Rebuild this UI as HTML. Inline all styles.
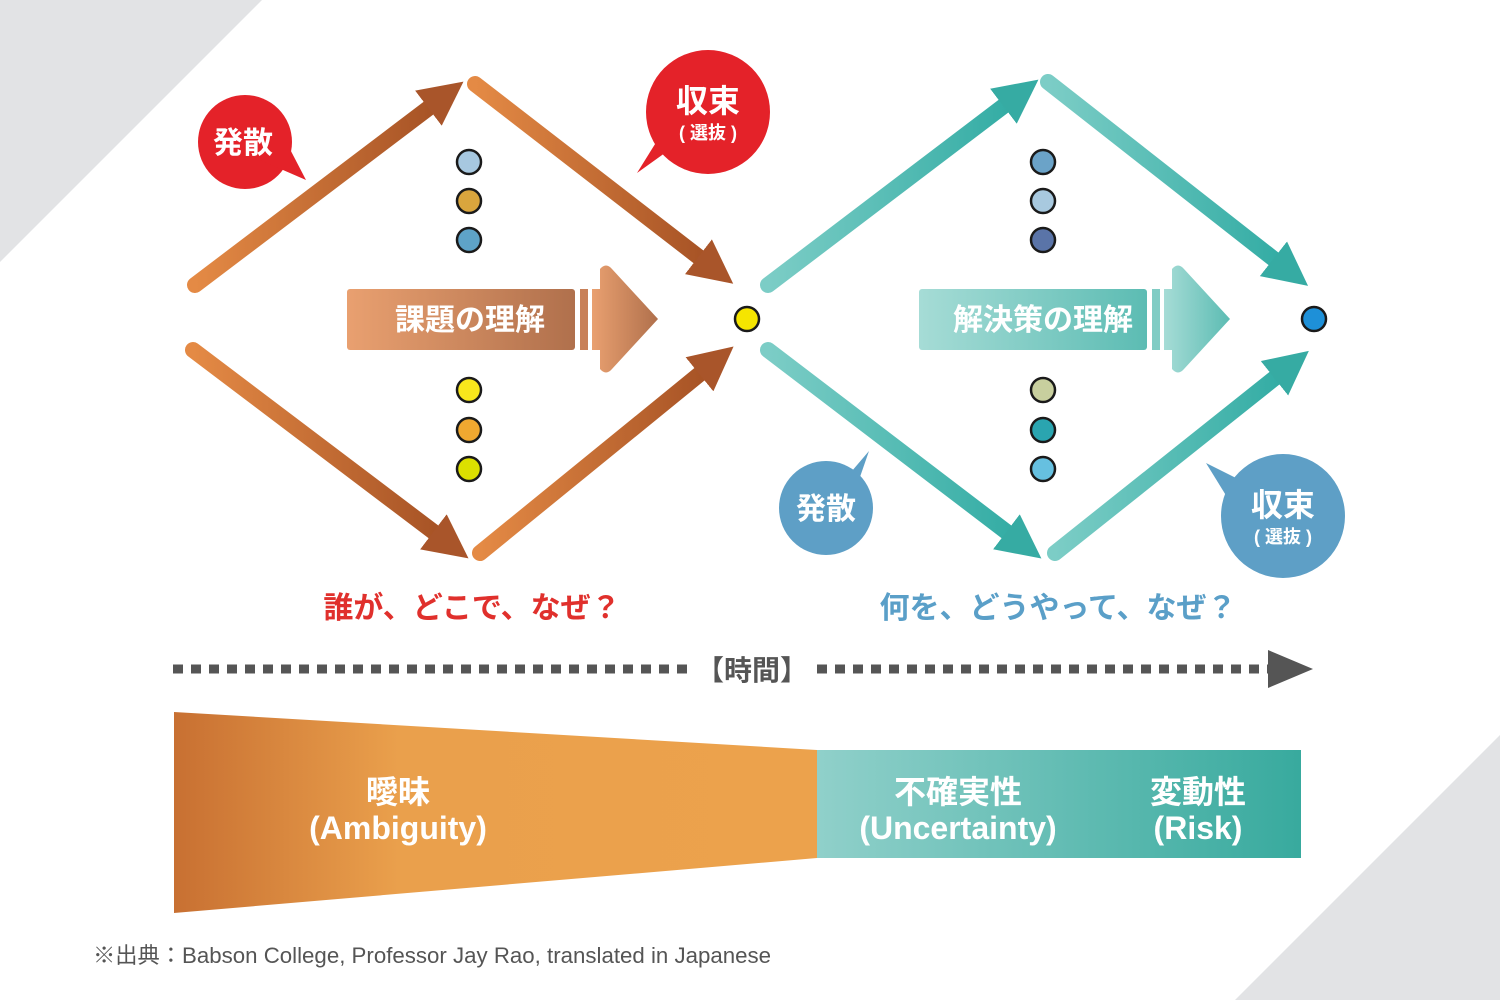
<!DOCTYPE html>
<html><head><meta charset="utf-8"><style>
body{margin:0;background:#fff;}
svg{display:block;}
text{font-family:"Liberation Sans","Noto Sans CJK JP",sans-serif;}
</style></head><body>
<svg width="1500" height="1000" viewBox="0 0 1500 1000">
<defs>
<linearGradient id="og" x1="0" y1="0" x2="1" y2="0"><stop offset="0" stop-color="#e48a45"/><stop offset="1" stop-color="#a85426"/></linearGradient>
<linearGradient id="tg" x1="0" y1="0" x2="1" y2="0"><stop offset="0" stop-color="#7ccdc6"/><stop offset="1" stop-color="#35ada5"/></linearGradient>
<linearGradient id="cb" x1="0" y1="0" x2="1" y2="0"><stop offset="0" stop-color="#e9a070"/><stop offset="1" stop-color="#b0704c"/></linearGradient>
<linearGradient id="cb2" x1="0" y1="0" x2="1" y2="0"><stop offset="0" stop-color="#a6dcd6"/><stop offset="1" stop-color="#5cbcb3"/></linearGradient>
<linearGradient id="bo" x1="0" y1="0" x2="1" y2="0"><stop offset="0" stop-color="#c87032"/><stop offset="0.35" stop-color="#eaa04c"/><stop offset="1" stop-color="#eca24c"/></linearGradient>
<linearGradient id="bt" x1="0" y1="0" x2="1" y2="0"><stop offset="0" stop-color="#90d0ca"/><stop offset="1" stop-color="#38aa9e"/></linearGradient>
<marker id="ao" markerUnits="userSpaceOnUse" markerWidth="60" markerHeight="60" refX="2" refY="22" orient="auto"><path d="M0,0 L44,22 L0,44 Z" fill="#a9552a"/></marker>
<marker id="at" markerUnits="userSpaceOnUse" markerWidth="60" markerHeight="60" refX="2" refY="22" orient="auto"><path d="M0,0 L44,22 L0,44 Z" fill="#36aba3"/></marker>
</defs>
<polygon points="0,0 262,0 0,262" fill="#e2e3e5"/>
<polygon points="1500,735 1500,1000 1235,1000" fill="#e2e3e5"/>

<g stroke-width="16" stroke-linecap="round" fill="none">
<line x1="195" y1="285" x2="430" y2="107" stroke="url(#og)" marker-end="url(#ao)"/>
<line x1="475" y1="84" x2="700" y2="258" stroke="url(#og)" marker-end="url(#ao)"/>
<line x1="193" y1="350" x2="435" y2="533" stroke="url(#og)" marker-end="url(#ao)"/>
<line x1="480" y1="553" x2="701" y2="373" stroke="url(#og)" marker-end="url(#ao)"/>
<line x1="768" y1="285" x2="1005" y2="105" stroke="url(#tg)" marker-end="url(#at)"/>
<line x1="1048" y1="82" x2="1275" y2="260" stroke="url(#tg)" marker-end="url(#at)"/>
<line x1="768" y1="350" x2="1008" y2="533" stroke="url(#tg)" marker-end="url(#at)"/>
<line x1="1055" y1="553" x2="1276" y2="377" stroke="url(#tg)" marker-end="url(#at)"/>
</g>

<g stroke="#1a1a1a" stroke-width="2.5">
<circle cx="469" cy="162" r="12" fill="#a7c8e0"/>
<circle cx="469" cy="201" r="12" fill="#d9a53d"/>
<circle cx="469" cy="240" r="12" fill="#5ea3c7"/>
<circle cx="469" cy="390" r="12" fill="#f8e71c"/>
<circle cx="469" cy="430" r="12" fill="#f0a830"/>
<circle cx="469" cy="469" r="12" fill="#dce000"/>
<circle cx="1043" cy="162" r="12" fill="#6ba3c8"/>
<circle cx="1043" cy="201" r="12" fill="#a8c9df"/>
<circle cx="1043" cy="240" r="12" fill="#5a74a8"/>
<circle cx="1043" cy="390" r="12" fill="#c8cf9e"/>
<circle cx="1043" cy="430" r="12" fill="#2aa5b0"/>
<circle cx="1043" cy="469" r="12" fill="#66c0e0"/>
<circle cx="747" cy="319" r="12" fill="#f5e500"/>
<circle cx="1314" cy="319" r="12" fill="#1e90d8"/>
</g>

<rect x="347" y="289" width="228" height="61" rx="3" fill="url(#cb)"/>
<rect x="580" y="289" width="8" height="61" fill="#c88058"/>
<path d="M592,289 L600,289 L600,269 Q606,262 612,269 L658,319 L612,369 Q606,376 600,369 L600,350 L592,350 Z" fill="url(#cb)"/>
<text x="470" y="330" font-size="30" font-weight="bold" fill="#fff" text-anchor="middle">課題の理解</text>
<rect x="919" y="289" width="228" height="61" rx="3" fill="url(#cb2)"/>
<rect x="1152" y="289" width="8" height="61" fill="#80ccc4"/>
<path d="M1164,289 L1172,289 L1172,269 Q1178,262 1184,269 L1230,319 L1184,369 Q1178,376 1172,369 L1172,350 L1164,350 Z" fill="url(#cb2)"/>
<text x="1043" y="330" font-size="30" font-weight="bold" fill="#fff" text-anchor="middle">解決策の理解</text>

<circle cx="245" cy="142" r="47" fill="#e42229"/>
<path d="M260,160 L306,180 L280,130 Z" fill="#e42229"/>
<text x="243" y="153" font-size="30" font-weight="bold" fill="#fff" text-anchor="middle">発散</text>
<circle cx="708" cy="112" r="62" fill="#e42229"/>
<path d="M690,135 L637,173 L670,120 Z" fill="#e42229"/>
<text x="708" y="112" font-size="32" font-weight="bold" fill="#fff" text-anchor="middle">収束</text>
<text x="708" y="139" font-size="18" font-weight="bold" fill="#fff" text-anchor="middle">( 選抜 )</text>

<circle cx="826" cy="508" r="47" fill="#5e9fc6"/>
<path d="M840,485 L869,451 L852,500 Z" fill="#5e9fc6"/>
<text x="826" y="519" font-size="30" font-weight="bold" fill="#fff" text-anchor="middle">発散</text>
<circle cx="1283" cy="516" r="62" fill="#5e9fc6"/>
<path d="M1260,490 L1206,463 L1235,510 Z" fill="#5e9fc6"/>
<text x="1283" y="516" font-size="32" font-weight="bold" fill="#fff" text-anchor="middle">収束</text>
<text x="1283" y="543" font-size="18" font-weight="bold" fill="#fff" text-anchor="middle">( 選抜 )</text>

<text x="472" y="618" font-size="30" font-weight="bold" fill="#e0302c" text-anchor="middle">誰が、どこで、なぜ？</text>
<text x="1058" y="618" font-size="30" font-weight="bold" fill="#5a9fc8" text-anchor="middle">何を、どうやって、なぜ？</text>

<line x1="173" y1="669" x2="690" y2="669" stroke="#555" stroke-width="9" stroke-dasharray="10,8"/>
<line x1="817" y1="669" x2="1270" y2="669" stroke="#555" stroke-width="9" stroke-dasharray="10,8"/>
<path d="M1268,650 L1313,669 L1268,688 Z" fill="#555"/>
<text x="752" y="680" font-size="28" font-weight="bold" fill="#555" text-anchor="middle">【時間】</text>

<polygon points="174,712 817,750 817,858 174,913" fill="url(#bo)"/>
<rect x="817" y="750" width="484" height="108" fill="url(#bt)"/>
<text x="398" y="803" font-size="32" font-weight="bold" fill="#fff" text-anchor="middle">曖昧</text>
<text x="398" y="839" font-size="32" font-weight="bold" fill="#fff" text-anchor="middle">(Ambiguity)</text>
<text x="958" y="803" font-size="32" font-weight="bold" fill="#fff" text-anchor="middle">不確実性</text>
<text x="958" y="839" font-size="32" font-weight="bold" fill="#fff" text-anchor="middle">(Uncertainty)</text>
<text x="1198" y="803" font-size="32" font-weight="bold" fill="#fff" text-anchor="middle">変動性</text>
<text x="1198" y="839" font-size="32" font-weight="bold" fill="#fff" text-anchor="middle">(Risk)</text>

<text x="93" y="963" font-size="22" fill="#555" textLength="678" lengthAdjust="spacingAndGlyphs">※出典：Babson College, Professor Jay Rao, translated in Japanese</text>
</svg>
</body></html>
